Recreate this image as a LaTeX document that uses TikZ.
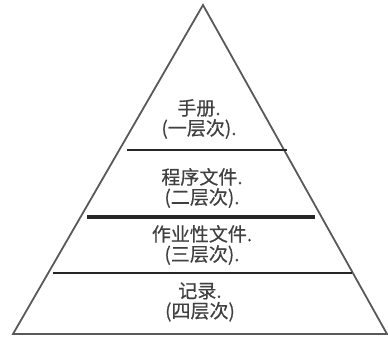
\documentclass[tikz,border=0pt]{standalone}
\usepackage{fontspec}
\newfontfamily\cjk[FakeBold=0.5]{Noto Sans CJK SC}
\usetikzlibrary{calc}

\begin{document}
\begin{tikzpicture}[x=1pt,y=-1pt,
    edge/.style={draw=black!65, line width=1.8pt, line join=miter},
    divider/.style={draw=black!85, line width=2.6pt},
    level/.style={font=\cjk\fontsize{19}{20}\selectfont, align=center,
        inner sep=0pt, text=black!75}]
    \useasboundingbox (0,0) rectangle (388,338);

    % Outline of the pyramid
    \coordinate (apex) at (203,5);
    \coordinate (bl) at (13,334);
    \coordinate (br) at (387,334);
    \draw[edge] (apex) -- (bl) -- (br) -- cycle;

    % Dividers between levels
    \coordinate (d1l) at (127,150);
    \coordinate (d1r) at (287,150);
    \coordinate (d2l) at (87,217);
    \coordinate (d2r) at (315,217);
    \coordinate (d3l) at (53,273);
    \coordinate (d3r) at (352,273);
    \draw[divider] (d1l) -- (d1r);
    \draw[divider, line width=3.4pt] (d2l) -- (d2r);
    \draw[divider] (d3l) -- (d3r);

    % Level labels
    \node[level] (lvl1) at (199,119) {手册.\\(一层次).};
    \node[level] (lvl2) at (202,188) {程序文件.\\(二层次).};
    \node[level] (lvl3) at (202,245) {作业性文件.\\(三层次).};
    \node[level] (lvl4) at (200,302) {记录.\\(四层次)};
\end{tikzpicture}
\end{document}
